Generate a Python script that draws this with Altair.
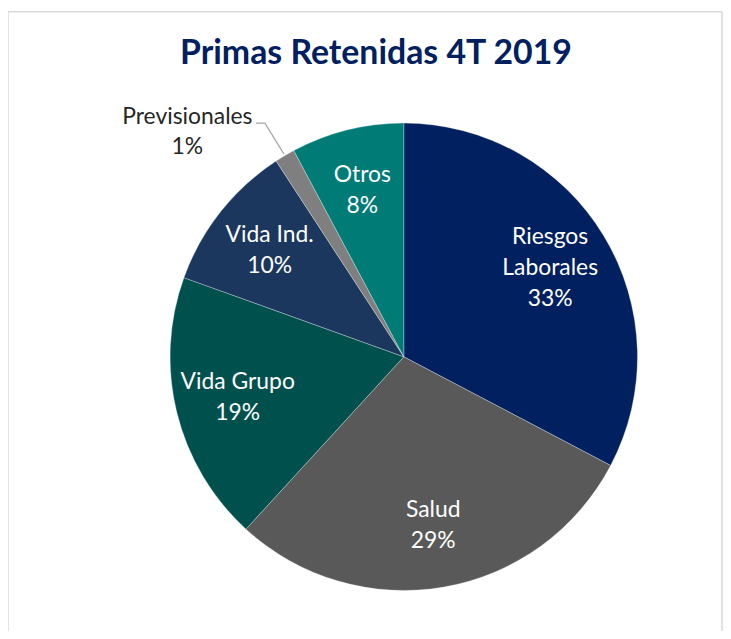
import math
import altair as alt
import pandas as pd

# ---- data ----
categories = ["Riesgos Laborales", "Salud", "Vida Grupo", "Vida Ind.", "Previsionales", "Otros"]
label_lines = ["Riesgos\nLaborales", "Salud", "Vida Grupo", "Vida Ind.", "Previsionales", "Otros"]
values = [32.7, 29.1, 18.7, 10.3, 1.4, 7.8]
colors = ["#002060", "#595959", "#00514E", "#1B375E", "#7F7F7F", "#007B76"]
title_text = "Primas Retenidas 4T 2019"

W, H = 719, 623
CX, CY, R = 398, 349, 235
FONT = "Lato"
FS = 23
LH = 31
LABEL_R = 172

df = pd.DataFrame({
    "cat": categories,
    "val": values,
    "order": list(range(len(categories))),
})

color = alt.Color("cat:N", scale=alt.Scale(domain=categories, range=colors), legend=None)

arcs = alt.Chart(df).mark_arc(radius=R, stroke="#FFFFFF", strokeWidth=0.5, strokeOpacity=0.6).encode(
    theta=alt.Theta("val:Q", stack=True),
    order=alt.Order("order:Q"),
    color=color, x=alt.value(CX), y=alt.value(CY),
)

# label rows derived from the arrays above
total = sum(values)
rows = []
leader_rows = []
for i, (lab, v) in enumerate(zip(label_lines, values)):
    start = sum(values[:i]) / total
    mid = (start + v / total / 2) * 2 * math.pi
    lines = lab.split("\n") + [f"{round(v)}%"]
    n = len(lines)
    if v >= 5:
        px = CX + LABEL_R * math.sin(mid)
        py = CY - LABEL_R * math.cos(mid)
        for k, t in enumerate(lines):
            rows.append({"px": px, "py": py + (k - (n - 1) / 2) * LH, "t": t, "fill": "#FFFFFF"})
    else:
        ax = CX + (R + 2) * math.sin(mid)
        ay = CY - (R + 2) * math.cos(mid)
        bx, by = ax - 19, ay - 31
        ccx, ccy = bx - 9, by
        leader_rows += [{"px": ax, "py": ay, "k": 0}, {"px": bx, "py": by, "k": 1},
                        {"px": ccx, "py": ccy, "k": 2}]
        for k, t in enumerate(lines):
            rows.append({"px": ccx - 69, "py": ccy - 6 + k * 30, "t": t, "fill": "#262626"})

lab_df = pd.DataFrame(rows)
labels = alt.Chart(lab_df).mark_text(
    font=FONT, fontSize=FS, align="center", baseline="middle",
).encode(
    x=alt.X("px:Q", scale=None, axis=None), y=alt.Y("py:Q", scale=None, axis=None), text="t:N",
    color=alt.Color("fill:N", scale=None),
)

leader = alt.Chart(pd.DataFrame(leader_rows)).mark_line(color="#A6A6A6", strokeWidth=1.2).encode(
    x=alt.X("px:Q", scale=None, axis=None), y=alt.Y("py:Q", scale=None, axis=None), order="k:Q"
)

title = alt.Chart(pd.DataFrame({"t": [title_text]})).mark_text(
    font=FONT, fontSize=34, fontWeight="bold", color="#002060", align="center", baseline="middle"
).encode(text="t:N", x=alt.value(370), y=alt.value(45))

rule_df = pd.DataFrame({"a": [0]})
border_l = alt.Chart(rule_df).mark_rule(color="#D9D9D9", strokeWidth=1.5).encode(
    x=alt.value(0), y=alt.value(2), y2=alt.value(H + 40)
)
border_r = alt.Chart(rule_df).mark_rule(color="#D9D9D9", strokeWidth=1.5).encode(
    x=alt.value(718), y=alt.value(2), y2=alt.value(H + 40)
)
border_t = alt.Chart(rule_df).mark_rule(color="#D9D9D9", strokeWidth=1.5).encode(
    x=alt.value(0), x2=alt.value(718), y=alt.value(2)
)

chart = alt.layer(
    border_l, border_r, border_t, arcs, leader, labels, title
).properties(
    width=W, height=H, padding=0, background="white",
    autosize=alt.AutoSizeParams(type="none"),
).configure_view(strokeWidth=0, strokeOpacity=0)

chart.save("out.html", embed_options={"renderer": "svg", "actions": False})
